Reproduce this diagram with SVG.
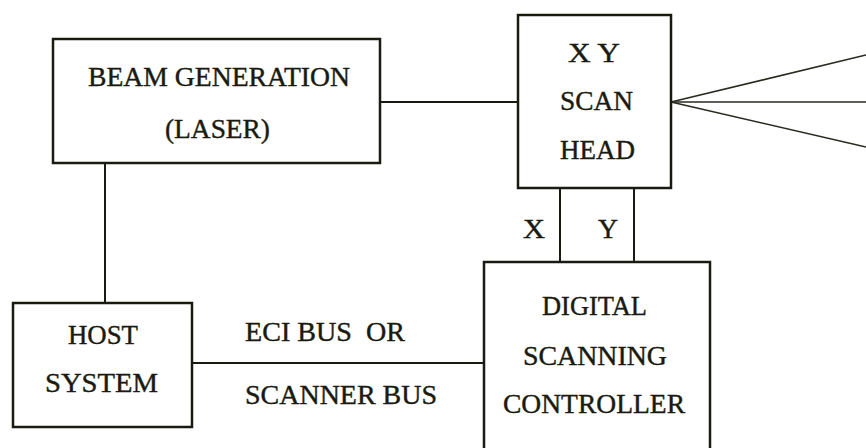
<svg xmlns="http://www.w3.org/2000/svg" width="866" height="448" viewBox="0 0 866 448">
<style>
.box{fill:#fff;stroke:#1a1a10;stroke-width:2.5}
.ln{stroke:#1a1a10;stroke-width:2;fill:none}
.fan{stroke:#2a2a20;stroke-width:1.6;fill:none}
text{font-family:"Liberation Serif","DejaVu Serif",serif;font-size:27px;fill:#1a1a10;stroke:#1a1a10;stroke-width:0.4}
</style>
<rect width="866" height="448" fill="#fff"/>
<g id="connectors">
<line class="ln" x1="380" y1="102" x2="518" y2="102"/>
<line class="ln" x1="105" y1="163" x2="105" y2="303"/>
<line class="ln" x1="192" y1="363" x2="484" y2="363"/>
<line class="ln" x1="560" y1="188" x2="560" y2="262"/>
<line class="ln" x1="634" y1="188" x2="634" y2="262"/>
<line class="fan" x1="671" y1="102" x2="866" y2="55"/>
<line class="fan" x1="671" y1="102" x2="866" y2="102"/>
<line class="fan" x1="671" y1="102" x2="866" y2="147"/>
<text x="523" y="238" textLength="22" lengthAdjust="spacingAndGlyphs">X</text>
<text x="598" y="238" textLength="20" lengthAdjust="spacingAndGlyphs">Y</text>
<text x="245" y="341" textLength="160" lengthAdjust="spacingAndGlyphs" xml:space="preserve">ECI BUS  OR</text>
<text x="245" y="404" textLength="192" lengthAdjust="spacingAndGlyphs">SCANNER BUS</text>
</g>
<g id="beam">
<rect class="box" x="53" y="39" width="327" height="124"/>
<text x="88" y="86" textLength="262" lengthAdjust="spacingAndGlyphs">BEAM GENERATION</text>
<text x="165" y="138" textLength="105" lengthAdjust="spacingAndGlyphs">(LASER)</text>
</g>
<g id="scanhead">
<rect class="box" x="518" y="15" width="153" height="173"/>
<text x="568" y="62" textLength="52" lengthAdjust="spacingAndGlyphs" xml:space="preserve">X Y</text>
<text x="560" y="110" textLength="73" lengthAdjust="spacingAndGlyphs">SCAN</text>
<text x="560" y="159" textLength="75" lengthAdjust="spacingAndGlyphs">HEAD</text>
</g>
<g id="host">
<rect class="box" x="13" y="303" width="179" height="124"/>
<text x="68" y="344" textLength="70" lengthAdjust="spacingAndGlyphs">HOST</text>
<text x="45" y="392" textLength="113" lengthAdjust="spacingAndGlyphs">SYSTEM</text>
</g>
<g id="controller">
<rect class="box" x="484" y="262" width="226" height="200"/>
<text x="542" y="315" textLength="105" lengthAdjust="spacingAndGlyphs">DIGITAL</text>
<text x="523" y="365" textLength="144" lengthAdjust="spacingAndGlyphs">SCANNING</text>
<text x="503" y="413" textLength="182" lengthAdjust="spacingAndGlyphs">CONTROLLER</text>
</g>
</svg>
